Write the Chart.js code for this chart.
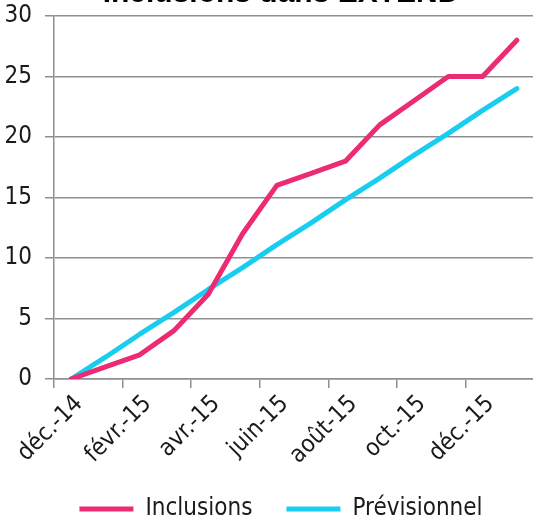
<!DOCTYPE html>
<html>
<head>
<meta charset="utf-8">
<script src="https://cdn.jsdelivr.net/npm/chart.js@4/dist/chart.umd.min.js"></script>
<style>
  html, body { margin: 0; padding: 0; overflow: hidden; background: #fff; }
  #wrap { position: absolute; left: 0; top: -36px; width: 562px; height: 567px; }
</style>
</head>
<body>
<div id="wrap"><canvas id="chart"></canvas></div>
<script>
// Months on the x axis (one point per month)
const months = ['déc.-14', 'janv.-15', 'févr.-15', 'mars-15', 'avr.-15', 'mai-15', 'juin-15',
                'juil.-15', 'août-15', 'sept.-15', 'oct.-15', 'nov.-15', 'déc.-15', 'janv.-16'];

// Cumulative inclusions (actual)
const inclusions = [0, 1, 2, 4, 7, 12, 16, 17, 18, 21, 23, 25, 25, 28];

// Forecast
const previsionnel = [0, 1.8, 3.7, 5.5, 7.4, 9.2, 11.1, 12.9, 14.8, 16.6, 18.5, 20.3, 22.2, 24];

// y axis ticks
const yTicks = [0, 5, 10, 15, 20, 25, 30];

const narrow = "'Liberation Sans Narrow', 'Arial Narrow', 'DejaVu Sans Condensed', sans-serif";
const gridGray = '#8f8f8f';

const ctx = document.getElementById('chart').getContext('2d');
const chart = new Chart(ctx, {
    type: 'line',
    data: {
        labels: months,
        datasets: [{
            label: 'Inclusions',
            data: inclusions,
            borderColor: '#ec2b73',
            backgroundColor: '#ec2b73',
            borderWidth: 5,
            borderCapStyle: 'round',
            borderJoinStyle: 'round',
            pointRadius: 0,
            tension: 0
        }, {
            label: 'Prévisionnel',
            data: previsionnel,
            borderColor: '#18cdf0',
            backgroundColor: '#18cdf0',
            borderWidth: 5,
            borderCapStyle: 'round',
            borderJoinStyle: 'round',
            pointRadius: 0,
            tension: 0
        }]
    },
    options: {
        responsive: true,
        maintainAspectRatio: false,
        animation: false,
        layout: { padding: 0 },
        plugins: {
            title: {
                display: true,
                text: 'Inclusions dans EXTEND',
                color: '#000',
                font: { family: "'Liberation Sans', Arial, sans-serif", size: 30, weight: 'bold', lineHeight: 1.2 },
                padding: { top: 12, bottom: 4 }
            },
            legend: {
                position: 'bottom',
                labels: {
                    color: '#1a1a1a',
                    font: { family: narrow, size: 24 },
                    usePointStyle: true,
                    pointStyle: 'line',
                    pointStyleWidth: 54,
                    padding: 34
                }
            },
            tooltip: { enabled: false }
        },
        scales: {
            x: {
                offset: true,
                afterFit: (s) => { s.height = 84; },
                grid: {
                    offset: true,
                    drawOnChartArea: false,
                    tickLength: 9,
                    lineWidth: 1.5,
                    color: (c) => (c.index % 2 === 0 ? gridGray : 'rgba(0,0,0,0)')
                },
                border: { display: true, color: gridGray, width: 1.5 },
                ticks: {
                    autoSkip: false,
                    maxRotation: 45,
                    minRotation: 45,
                    color: '#1a1a1a',
                    font: { family: narrow, size: 24 },
                    padding: 2,
                    labelOffset: 8,
                    callback: function (value, index) {
                        return index % 2 === 0 ? this.getLabelForValue(value) : '';
                    }
                }
            },
            y: {
                min: 0,
                max: 30,
                afterFit: (s) => { s.width = 54; },
                afterBuildTicks: (s) => { s.ticks = yTicks.map(v => ({ value: v })); },
                grid: {
                    color: gridGray,
                    lineWidth: 1.5,
                    tickLength: 9
                },
                border: { display: true, color: gridGray, width: 1.5 },
                ticks: {
                    color: '#1a1a1a',
                    font: { family: narrow, size: 24 },
                    padding: 13
                }
            },
            // empty right-hand margin so the title and legend centre like the original
            yRight: {
                position: 'right',
                afterFit: (s) => { s.width = 28; },
                grid: { display: false },
                border: { display: false },
                ticks: { display: false }
            }
        }
    }
});
</script>
</body>
</html>
